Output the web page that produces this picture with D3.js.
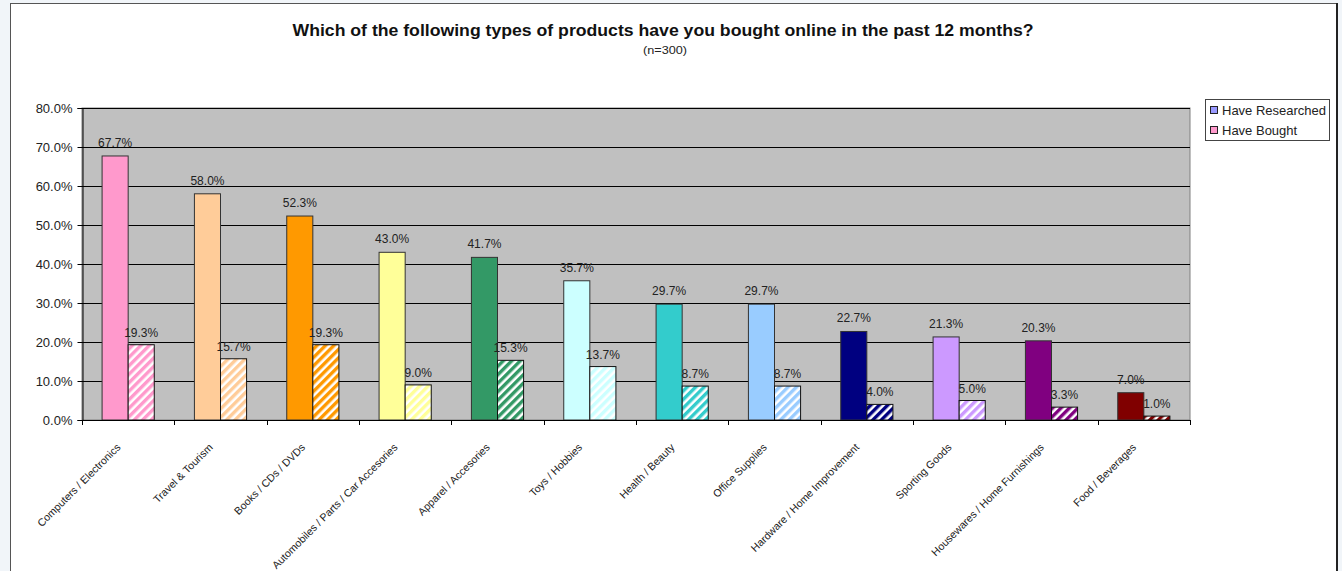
<!DOCTYPE html>
<html>
<head>
<meta charset="utf-8">
<script src="https://cdn.jsdelivr.net/npm/d3@7"></script>
<style>
  html, body { margin: 0; padding: 0; background: #f1f5f9; }
  svg { display: block; font-family: Arial, "Liberation Sans", sans-serif; }
</style>
</head>
<body>
<svg id="chart" width="1342" height="571"></svg>
<script>
// Product categories
const categories = [
  "Computers / Electronics", "Travel & Tourism", "Books / CDs / DVDs",
  "Automobiles / Parts / Car Accesories", "Apparel / Accesories", "Toys / Hobbies",
  "Health / Beauty", "Office Supplies", "Hardware / Home Improvement",
  "Sporting Goods", "Housewares / Home Furnishings", "Food / Beverages"
];
// Series values (%)
const researched = [67.7, 58.0, 52.3, 43.0, 41.7, 35.7, 29.7, 29.7, 22.7, 21.3, 20.3, 7.0];
const bought     = [19.3, 15.7, 19.3, 9.0, 15.3, 13.7, 8.7, 8.7, 4.0, 5.0, 3.3, 1.0];
// One colour per category
const barColors = ["#ff99cc", "#ffcc99", "#ff9900", "#ffff99", "#339966", "#ccffff",
                   "#33cccc", "#99ccff", "#000080", "#cc99ff", "#800080", "#800000"];
const seriesNames = ["Have Researched", "Have Bought"];
const legendColors = ["#9999ff", "#ff99cc"];
const yTicks = [0, 10, 20, 30, 40, 50, 60, 70, 80];

const svg = d3.select("#chart");

// Chart frame
svg.append("rect").attr("x", 10.5).attr("y", 3.5).attr("width", 1326).attr("height", 580)
  .attr("fill", "#ffffff").attr("stroke", "#555").attr("stroke-width", 1);
svg.append("line").attr("x1", 1337).attr("x2", 1337).attr("y1", 3).attr("y2", 571)
  .attr("stroke", "#222").attr("stroke-width", 2);

const plot = { left: 82, right: 1190, top: 108, bottom: 420 };

const x = d3.scaleBand().domain(categories).range([plot.left, plot.right]).paddingInner(0).paddingOuter(0);
const y = d3.scaleLinear().domain([0, 80]).range([plot.bottom, plot.top]);
const groupWidth = x.bandwidth() * 0.565;
const sub = d3.scaleBand().domain([0, 1]).range([0, groupWidth]);

// Hatch patterns for the second series
const defs = svg.append("defs");
barColors.forEach((c, i) => {
  const p = defs.append("pattern").attr("id", "hatch" + i)
    .attr("patternUnits", "userSpaceOnUse").attr("width", 6).attr("height", 6)
    .attr("patternTransform", "rotate(45)");
  p.append("rect").attr("width", 6).attr("height", 6).attr("fill", "#ffffff");
  p.append("rect").attr("width", 3.4).attr("height", 6).attr("fill", c);
});

// Plot area
svg.append("rect").attr("x", plot.left).attr("y", plot.top)
  .attr("width", plot.right - plot.left).attr("height", plot.bottom - plot.top)
  .attr("fill", "#c0c0c0").attr("stroke", "#808080").attr("stroke-width", 1);

// Gridlines
svg.append("g").selectAll("line").data(yTicks.slice(1)).join("line")
  .attr("x1", plot.left).attr("x2", plot.right)
  .attr("y1", d => Math.round(y(d)) + 0.5).attr("y2", d => Math.round(y(d)) + 0.5)
  .attr("stroke", "#000").attr("stroke-width", 1);

// Y axis
const yAxis = svg.append("g").attr("transform", `translate(${plot.left + 0.5},0)`)
  .call(d3.axisLeft(y).tickValues(yTicks).tickFormat(d => d.toFixed(1) + "%").tickSize(5).tickPadding(5));
yAxis.select(".domain").attr("stroke", "#000");
yAxis.selectAll(".tick line").attr("stroke", "#000");
yAxis.selectAll("text").attr("font-size", 13).attr("fill", "#222").attr("font-family", "Arial, 'Liberation Sans', sans-serif");

// Bars
const groups = svg.append("g").selectAll("g").data(categories).join("g")
  .attr("transform", d => `translate(${x(d) + (x.bandwidth() - groupWidth) / 2},0)`);

groups.append("rect")
  .attr("x", 0).attr("width", sub.bandwidth())
  .attr("y", (d, i) => y(researched[i])).attr("height", (d, i) => y(0) - y(researched[i]))
  .attr("fill", (d, i) => barColors[i]).attr("stroke", "#333").attr("stroke-width", 1);

groups.append("rect")
  .attr("x", sub(1)).attr("width", sub.bandwidth())
  .attr("y", (d, i) => y(bought[i])).attr("height", (d, i) => y(0) - y(bought[i]))
  .attr("fill", (d, i) => `url(#hatch${i})`).attr("stroke", "#111").attr("stroke-width", 1);

// Value labels
groups.append("text")
  .attr("x", sub.bandwidth() / 2).attr("y", (d, i) => y(researched[i]) - 9)
  .attr("text-anchor", "middle").attr("font-size", 12).attr("fill", "#222")
  .text((d, i) => researched[i].toFixed(1) + "%");
groups.append("text")
  .attr("x", sub(1) + sub.bandwidth() / 2).attr("y", (d, i) => y(bought[i]) - 8)
  .attr("text-anchor", "middle").attr("font-size", 12).attr("fill", "#222")
  .text((d, i) => bought[i].toFixed(1) + "%");

// X axis
svg.append("line").attr("x1", plot.left).attr("x2", plot.right)
  .attr("y1", plot.bottom + 0.5).attr("y2", plot.bottom + 0.5).attr("stroke", "#000");
svg.append("g").selectAll("line").data(d3.range(categories.length + 1)).join("line")
  .attr("x1", i => Math.round(plot.left + i * x.step()) + 0.5)
  .attr("x2", i => Math.round(plot.left + i * x.step()) + 0.5)
  .attr("y1", plot.bottom).attr("y2", plot.bottom + 5).attr("stroke", "#000");

svg.append("g").selectAll("text").data(categories).join("text")
  .attr("transform", d => `translate(${x(d) + x.bandwidth() / 2 - 7},${plot.bottom + 28}) rotate(-45)`)
  .attr("text-anchor", "end").attr("font-size", 10.6).attr("fill", "#222")
  .text(d => d);

// Title
svg.append("text").attr("x", 663).attr("y", 36).attr("text-anchor", "middle")
  .attr("font-size", 16).attr("font-weight", "bold").attr("fill", "#111")
  .attr("textLength", 741).attr("lengthAdjust", "spacingAndGlyphs")
  .text("Which of the following types of products have you bought online in the past 12 months?");
svg.append("text").attr("x", 665).attr("y", 54).attr("text-anchor", "middle")
  .attr("font-size", 11).attr("fill", "#222")
  .attr("textLength", 44).attr("lengthAdjust", "spacingAndGlyphs").text("(n=300)");

// Legend
const legend = svg.append("g").attr("transform", "translate(1205,99)");
legend.append("rect").attr("x", 0.5).attr("y", 0.5).attr("width", 124).attr("height", 41)
  .attr("fill", "#fff").attr("stroke", "#444");
seriesNames.forEach((name, i) => {
  legend.append("rect").attr("x", 5.5).attr("y", 7.5 + i * 20).attr("width", 7).attr("height", 7)
    .attr("fill", legendColors[i]).attr("stroke", "#222");
  legend.append("text").attr("x", 17).attr("y", 16 + i * 20).attr("font-size", 13).attr("fill", "#222")
    .text(name);
});
</script>
</body>
</html>
